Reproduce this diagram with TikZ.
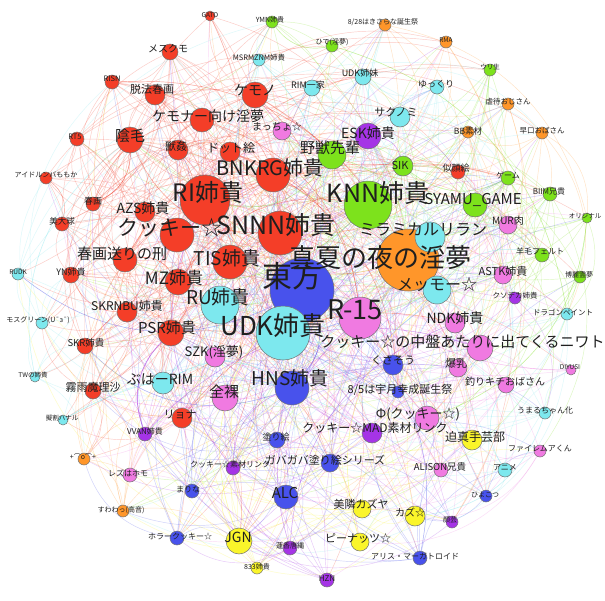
\documentclass[tikz,border=0pt]{standalone}
\usepackage{fontspec}
\setmainfont{Noto Sans CJK JP}
\pgfdeclarelayer{bg}
\pgfdeclarelayer{fg}
\pgfsetlayers{bg,main,fg}
\definecolor{cR}{RGB}{244,62,40}
\definecolor{cG}{RGB}{125,226,28}
\definecolor{cC}{RGB}{125,232,238}
\definecolor{cB}{RGB}{72,82,236}
\definecolor{cO}{RGB}{255,150,42}
\definecolor{cP}{RGB}{240,122,225}
\definecolor{cV}{RGB}{165,52,230}
\definecolor{cY}{RGB}{250,245,42}
\begin{document}
\begin{tikzpicture}[x=1pt,y=-1pt,
  nd/.style={circle, draw=black!55, line width=0.5pt, inner sep=0pt},
  lab/.style={inner sep=0pt, text=black!88},
  edge/.style={line width=0.45pt, draw opacity=0.27}]
\useasboundingbox (0,0) rectangle (605,600);
\begin{pgfonlayer}{bg}
\fill[white] (0,0) rectangle (605,600);
\end{pgfonlayer}
\foreach \ii/\xx/\yy/\rr/\cc/\ff/\lx/\ly/\tx in {
1/210/16/5/cR/6.5/210/15/GATO,
2/170/52/8/cR/10/168/49/メスクモ,
3/272/22/6/cG/7/270/20/YMN姉貴,
4/259/60/6/cC/7.5/259/58/MSRMZNM姉貴,
5/385/25/6/cO/7/383/22/{8/28はきさらな誕生祭},
6/332/46/6/cG/7/332/42/ひで(淫夢),
7/446/42/6/cO/6.5/446/40/RMA,
8/363/77/8/cC/9/360/73/UDK姉妹,
9/312/88/8/cC/9/308/85/RIM一家,
10/437/87/7/cC/9/436/84/ゆっくり,
11/490/70/6/cG/6.5/490/67/ウリ生,
12/508/104/6/cO/7.5/508/102/虐待おじさん,
13/542/133/6/cO/7.5/542/131/早口おばさん,
14/468/132/6/cO/8.5/468/131/BB素材,
15/255/95/13/cR/14/255/90/ケモノ,
16/155/95/10/cR/11/152/89/脱法春画,
17/112/82/7/cR/7.5/112/79/RISN,
18/202/120/12/cR/14/208/116/ケモナー向け淫夢,
19/130/140/13/cR/15/130/136/陰毛,
20/77/139/7/cR/7.5/75/137/RT5,
21/178/150/10/cR/11/176/146/獣姦,
22/230/152/10/cR/12/231/148/ドット絵,
23/282/131/9/cP/10/277/127/まっちょ☆,
24/400/117/10/cC/11/396/112/サクノミ,
25/368/136/13/cV/14/368/133/ESK姉貴,
26/332/155/14/cG/15/330/148/野獣先輩,
27/273/175/17/cR/20/270/168/BNKRG姉貴,
28/403/166/10/cG/11/400/165/SIK,
29/458/172/7/cR/9/456/168/似顔絵,
30/508/178/7/cG/8/508/175/ゲーム,
31/550/194/7/cG/8/549/191/BIIM兄貴,
32/205/200/25/cR/24/208/192/RI姉貴,
33/368/205/24/cG/25/378/193/KNN姉貴,
34/475/205/12/cG/15/473/200/SYAMU\_GAME,
35/280/233/22/cR/25/276/225/SNNN姉貴,
36/177/235/17/cR/21/170/228/クッキー☆,
37/145/212/10/cR/14/143/208/AZS姉貴,
38/93/204/7/cR/9/93/201/春画,
39/46/178/6/cR/7/46/175/アイドルンバももか,
40/62/224/7/cR/8.5/62/221/美大球,
41/125/260/12/cR/15/122/254/春画送りの刑,
42/230/262/17/cR/19/227/258/TIS姉貴,
43/408/260/31/cO/26/380/258/真夏の夜の淫夢,
44/430/237/15/cC/16/423/230/ミラミカルリラン,
45/302/290/32/cB/30/292/276/東方,
46/178/282/13/cR/17/174/278/MZ姉貴,
47/508/225/9/cP/10/508/221/MUR肉,
48/587/218/5/cG/6.5/585/216/オリジナル,
49/542/255/7/cG/8/540/251/羊毛フェルト,
50/580/277/6/cG/7/579/275/博麗霊夢,
51/503/275/9/cP/11/503/271/ASTK姉貴,
52/437/290/14/cC/16/437/285/メッモー☆,
53/515/298/6/cV/7.5/515/296/クソデカ姉貴,
54/567/314/6/cC/7.5/563/312/ドラゴンペイント,
55/220/305/19/cC/19/218/297/RU姉貴,
56/283/333/27/cC/26/273/326/UDK姉貴,
57/360/318/21/cP/27/355/310/R-15,
58/171/333/13/cR/15/167/328/PSR姉貴,
59/127/312/10/cR/12/127/306/SKRNBU姉貴,
60/42/323/6/cC/7/38/320/モスグリーン(U¯з¯),
61/215/357/10/cP/13/214/352/SZK(淫夢),
62/85/346/8/cR/9.5/86/343/SKR姉貴,
63/455/323/10/cP/14/455/318/NDK姉貴,
64/480/348/13/cP/15/470/342/クッキー☆の中盤あたりに出てくるニワトリ,
65/393/365/10/cB/11/393/360/くさそう,
66/458/368/9/cP/11/456/363/爆乳,
67/292/388/17/cB/19/290/378/HNS姉貴,
68/225/398/13/cP/15/224/392/全裸,
69/163/383/11/cC/14/160/379/ぶはーRIM,
70/35/377/5/cC/6.5/33/375/TWの姉貴,
71/93/391/8/cR/11/93/387/霧雨魔理沙,
72/398/392/6/cB/11/400/390/{8/5は宇月幸成誕生祭},
73/506/385/8/cP/10/505/382/釣りキチおばさん,
74/571/370/5/cP/6.5/570/367/DIYUSI,
75/182/418/10/cR/11/180/415/リョナ,
76/63/420/5/cC/6.5/62/418/擬割ハナル,
77/145/434/7/cV/8/145/431/VVAN姉貴,
78/427/418/12/cP/13/418/414/Φ(クッキー☆),
79/545/413/6/cC/8/545/411/うまるちゃん化,
80/372/433/10/cV/12/375/428/クッキー☆MAD素材リンク,
81/472/440/10/cY/12/475/437/迫真手芸部,
82/277/440/8/cB/9/276/437/塗り絵,
83/540/451/6/cP/8/540/449/ファイレムアくん,
84/84/459/6/cO/7/83/457/+⌒o⌒+,
85/130/475/7/cP/8/128/473/レズはホモ,
86/233/468/7/cV/8/230/464/クッキー☆素材リンク,
87/330/463/9/cB/11/325/460/ガバガバ塗り絵シリーズ,
88/192/491/7/cB/8/188/489/まりな,
89/441/470/7/cP/9.5/440/467/ALISON兄貴,
90/505/470/7/cC/8/505/468/アニメ,
91/286/497/12/cB/15/285/493/ALC,
92/486/496/6/cB/7/485/495/ひよこつ,
93/362/509/9/cY/11/361/504/美隣カズヤ,
94/123/511/6/cO/7/121/510/すわわっ(高音),
95/415/516/10/cY/10/410/513/カズ☆,
96/452/522/6/cV/7/450/520/顔芸,
97/177/538/7/cB/8/180/537/ホラークッキー☆,
98/239/541/13/cY/14/238/537/JGN,
99/290/548/7/cV/7/290/546/蓮香唐縄,
100/360/542/9/cY/11/358/538/ピーナッツ☆,
101/420/558/7/cB/8/415/556/アリス・マーガトロイド,
102/257/568/6/cY/7/257/567/833姉貴,
103/327/580/7/cV/8/327/579/HZN,
104/18/274/6/cC/6.5/18/272/RUDK,
105/71/275/8/cR/9/71/272/YN姉貴}{
  \node[nd, fill=\cc, minimum size={2*\rr*1pt}] (n\ii) at (\xx,\yy) {};
  \expandafter\xdef\csname NX\ii\endcsname{\xx}
  \expandafter\xdef\csname NY\ii\endcsname{\yy}
  \expandafter\xdef\csname NR\ii\endcsname{\rr}
  \expandafter\xdef\csname NC\ii\endcsname{\cc}
  \begin{pgfonlayer}{fg}
  \node[lab, font={\fontsize{\ff}{\ff}\selectfont}] (t\ii) at (\lx,\ly) {\tx};
  \end{pgfonlayer}
}
\pgfmathsetseed{4242}
\begin{pgfonlayer}{bg}
\foreach \ii in {1,...,105}{
  \pgfmathtruncatemacro{\tries}{14+1.2*\csname NR\ii\endcsname}
  \edef\ec{\csname NC\ii\endcsname}
  \foreach \k in {1,...,\tries}{
    \pgfmathrandominteger{\jj}{1}{105}
    \pgfmathsetmacro{\dd}{veclen(\csname NX\ii\endcsname-\csname NX\jj\endcsname,\csname NY\ii\endcsname-\csname NY\jj\endcsname)}
    \pgfmathtruncatemacro{\acc}{(rnd<min(1,(0.12+\csname NR\jj\endcsname/12)*exp(-\dd/280)))&&(\jj!=\ii)}
    \ifnum\acc=1 \draw[edge,draw=\ec] (n\ii) to[bend left=32] (n\jj);\fi
  }
}
\end{pgfonlayer}
\end{tikzpicture}
\end{document}
